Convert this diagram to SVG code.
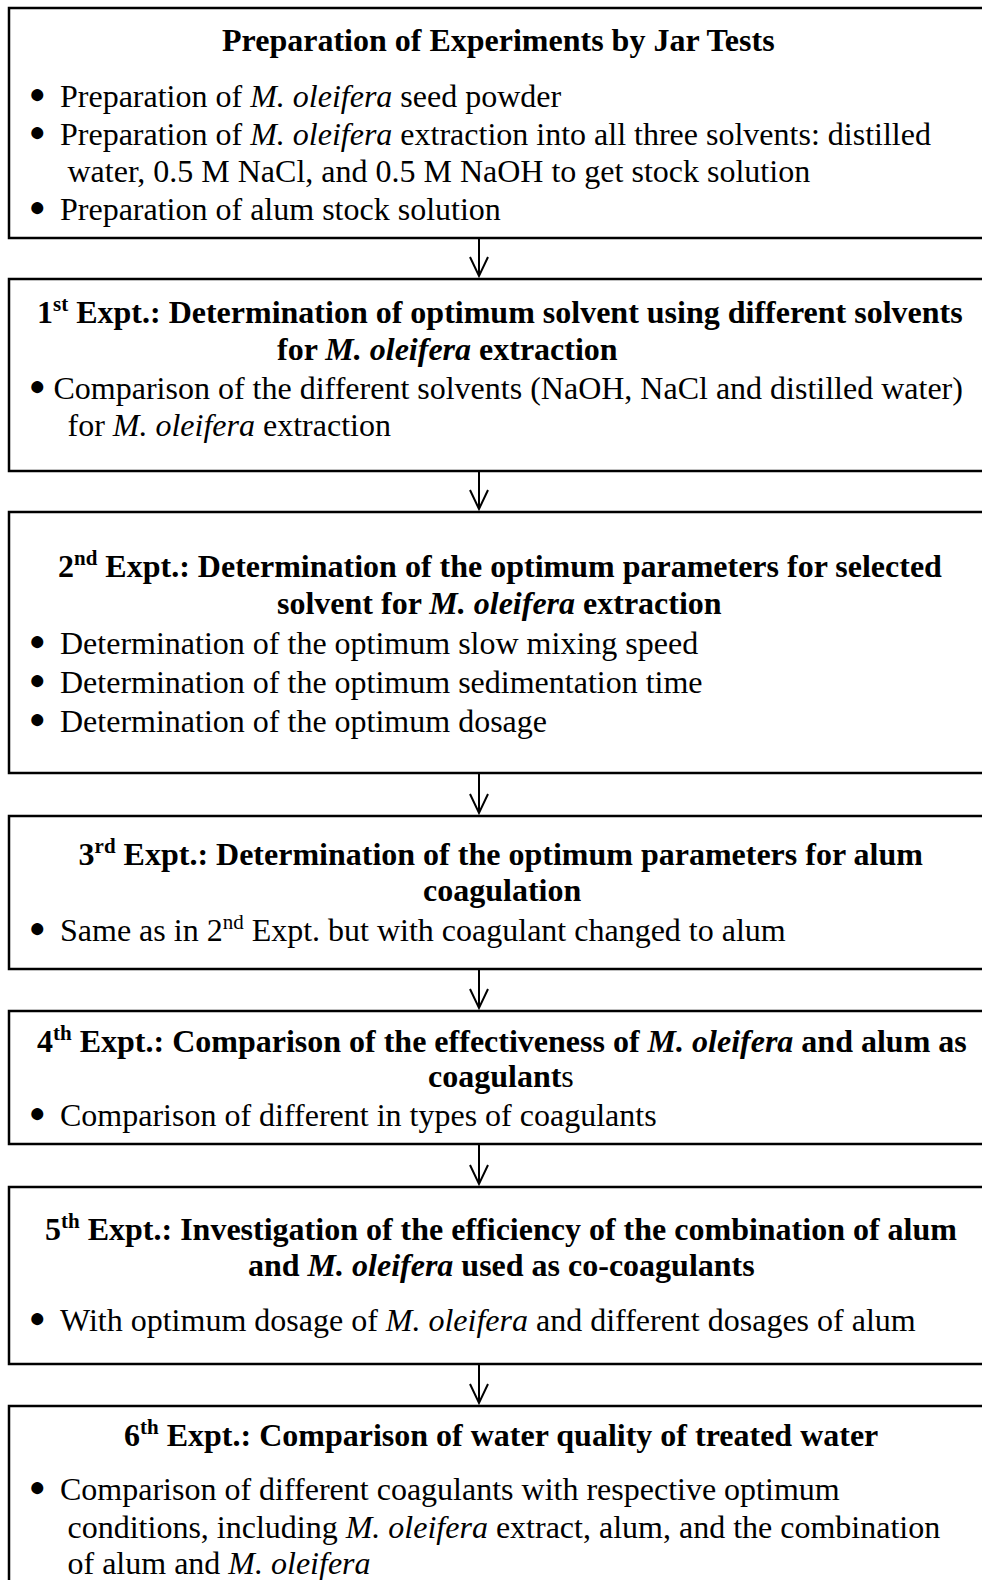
<svg xmlns="http://www.w3.org/2000/svg" width="982" height="1580" viewBox="0 0 982 1580">
<style>
.box{fill:#fff;stroke:#000;stroke-width:2.5}
.conn{stroke:#000;stroke-width:2;fill:none}
text{font-family:"Liberation Serif","Times New Roman",serif;font-size:32px;fill:#000}
.t{font-weight:bold}
.i{font-style:italic}
.r{font-weight:normal}
.sup{font-size:21px}
.b{font-size:28px}
</style>
<defs>
<marker id="ah" markerUnits="userSpaceOnUse" markerWidth="26" markerHeight="26" viewBox="-22 -12 26 26" refX="0" refY="0" orient="auto" overflow="visible">
<path d="M-19,-9 L0,0 L-19,9" fill="none" stroke="#000" stroke-width="2"/>
</marker>
</defs>
<rect x="0" y="0" width="982" height="1580" fill="#fff"/>

<g id="connectors">
<line class="conn" x1="479" y1="239" x2="479" y2="276" marker-end="url(#ah)"/>
<line class="conn" x1="479" y1="472" x2="479" y2="509" marker-end="url(#ah)"/>
<line class="conn" x1="479" y1="774" x2="479" y2="813" marker-end="url(#ah)"/>
<line class="conn" x1="479" y1="970" x2="479" y2="1008" marker-end="url(#ah)"/>
<line class="conn" x1="479" y1="1145" x2="479" y2="1184" marker-end="url(#ah)"/>
<line class="conn" x1="479" y1="1365" x2="479" y2="1403" marker-end="url(#ah)"/>
</g>

<g id="prep">
<rect class="box" x="9" y="8" width="990" height="230"/>
<text class="t" x="222" y="51">Preparation of Experiments by Jar Tests</text>
<text class="b" x="29" y="103">●</text><text x="60" y="107">Preparation of <tspan class="i">M. oleifera</tspan> seed powder</text>
<text class="b" x="29" y="141">●</text><text x="60" y="145">Preparation of <tspan class="i">M. oleifera</tspan> extraction into all three solvents: distilled</text>
<text x="67.5" y="182">water, 0.5 M NaCl, and 0.5 M NaOH to get stock solution</text>
<text class="b" x="29" y="216">●</text><text x="60" y="220">Preparation of alum stock solution</text>
</g>

<g id="expt1">
<rect class="box" x="9" y="279" width="990" height="192"/>
<text class="t" x="37" y="323">1<tspan class="sup" dy="-12">st</tspan><tspan dy="12"> Expt.: Determination of optimum solvent using different solvents</tspan></text>
<text class="t" x="277" y="360">for <tspan class="i">M. oleifera</tspan> extraction</text>
<text class="b" x="29" y="395">●</text><text x="53.5" y="399">Comparison of the different solvents (NaOH, NaCl and distilled water)</text>
<text x="67.5" y="436">for <tspan class="i">M. oleifera</tspan> extraction</text>
</g>

<g id="expt2">
<rect class="box" x="9" y="512" width="990" height="261"/>
<text class="t" x="58" y="577">2<tspan class="sup" dy="-12">nd</tspan><tspan dy="12"> Expt.: Determination of the optimum parameters for selected</tspan></text>
<text class="t" x="277" y="614">solvent for <tspan class="i">M. oleifera</tspan> extraction</text>
<text class="b" x="29" y="650">●</text><text x="60" y="654">Determination of the optimum slow mixing speed</text>
<text class="b" x="29" y="689">●</text><text x="60" y="693">Determination of the optimum sedimentation time</text>
<text class="b" x="29" y="728">●</text><text x="60" y="732">Determination of the optimum dosage</text>
</g>

<g id="expt3">
<rect class="box" x="9" y="816" width="990" height="153"/>
<text class="t" x="78.6" y="865">3<tspan class="sup" dy="-12">rd</tspan><tspan dy="12"> Expt.: Determination of the optimum parameters for alum</tspan></text>
<text class="t" x="423" y="901">coagulation</text>
<text class="b" x="29" y="937">●</text><text x="60" y="941">Same as in 2<tspan class="sup" dy="-12">nd</tspan><tspan dy="12"> Expt. but with coagulant changed to alum</tspan></text>
</g>

<g id="expt4">
<rect class="box" x="9" y="1011" width="990" height="133"/>
<text class="t" x="37" y="1052">4<tspan class="sup" dy="-12">th</tspan><tspan dy="12"> Expt.: Comparison of the effectiveness of <tspan class="i">M. oleifera</tspan> and alum as</tspan></text>
<text class="t" x="428" y="1087">coagulant<tspan class="r">s</tspan></text>
<text class="b" x="29" y="1122">●</text><text x="60" y="1126">Comparison of different in types of coagulants</text>
</g>

<g id="expt5">
<rect class="box" x="9" y="1187" width="990" height="177"/>
<text class="t" x="45" y="1240">5<tspan class="sup" dy="-12">th</tspan><tspan dy="12"> Expt.: Investigation of the efficiency of the combination of alum</tspan></text>
<text class="t" x="248" y="1276">and <tspan class="i">M. oleifera</tspan> used as co-coagulants</text>
<text class="b" x="29" y="1327">●</text><text x="60" y="1331">With optimum dosage of <tspan class="i">M. oleifera</tspan> and different dosages of alum</text>
</g>

<g id="expt6">
<rect class="box" x="9" y="1406" width="990" height="200"/>
<text class="t" x="124" y="1446">6<tspan class="sup" dy="-12">th</tspan><tspan dy="12"> Expt.: Comparison of water quality of treated water</tspan></text>
<text class="b" x="29" y="1496">●</text><text x="60" y="1500">Comparison of different coagulants with respective optimum</text>
<text x="67.5" y="1538">conditions, including <tspan class="i">M. oleifera</tspan> extract, alum, and the combination</text>
<text x="67.5" y="1574">of alum and <tspan class="i">M. oleifera</tspan></text>
</g>
</svg>
